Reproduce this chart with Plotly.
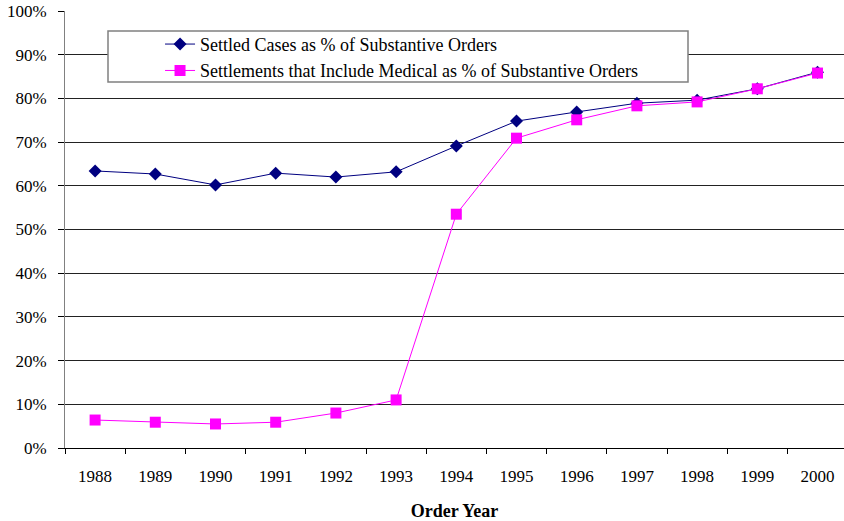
import plotly.graph_objects as go

years = ["1988", "1989", "1990", "1991", "1992", "1993", "1994",
         "1995", "1996", "1997", "1998", "1999", "2000"]
settled = [63.4, 62.7, 60.2, 62.9, 62.0, 63.2, 69.1, 74.8, 76.9, 78.9, 79.6, 82.2, 86.0]
medical = [6.4, 5.9, 5.5, 5.9, 8.0, 11.0, 53.5, 70.9, 75.1, 78.3, 79.2, 82.2, 85.8]

FONT = "Liberation Serif"
TF = dict(family=FONT, size=17, color="black")
LF = dict(family=FONT, size=18, color="black")

W, H = 844, 521
L, T, B = 65, 11, 73

fig = go.Figure()
fig.add_trace(go.Scatter(
    x=years, y=settled, mode="lines+markers",
    name="Settled Cases as % of Substantive Orders",
    line=dict(color="#000080", width=1),
    marker=dict(symbol="diamond", size=10, color="#000080"),
))
fig.add_trace(go.Scatter(
    x=years, y=medical, mode="lines+markers",
    name="Settlements that Include Medical as % of Substantive Orders",
    line=dict(color="#FF00FF", width=1),
    marker=dict(symbol="square", size=11, color="#FF00FF"),
))

fig.update_layout(
    width=W, height=H,
    margin=dict(l=L, r=0, t=T, b=B, autoexpand=False),
    paper_bgcolor="white", plot_bgcolor="white",
    font=TF,
    showlegend=True,
    legend=dict(x=0.122, y=0.966, xanchor="left", yanchor="top",
                bgcolor="rgba(0,0,0,0)", borderwidth=0,
                font=LF, tracegroupgap=0, itemwidth=30),
    xaxis=dict(type="category", range=[-0.5, 12.44], automargin=False,
               tickson="boundaries", ticks="outside", ticklen=5,
               tickcolor="black", showline=True, linecolor="black",
               linewidth=1, showgrid=False, tickfont=TF,
               ticklabelstandoff=13,
               title=dict(text="<b>Order Year</b>", standoff=20, font=LF)),
    yaxis=dict(range=[0, 100], dtick=10, ticksuffix="%", automargin=False,
               ticks="outside", ticklen=6, tickcolor="black", tickfont=TF,
               ticklabelstandoff=8,
               showline=True, linecolor="#808080", linewidth=1,
               showgrid=True, gridcolor="#222222", gridwidth=1,
               zeroline=False),
)

PW = W - L
PH = H - T - B
fig.add_shape(type="rect", xref="paper", yref="paper",
              x0=(108 - L) / PW, x1=(688 - L) / PW,
              y0=(H - B - 82) / PH, y1=(H - B - 31) / PH,
              line=dict(color="#808080", width=1.5), fillcolor="white",
              layer="above")

fig.write_html("out.html",
               config={"displayModeBar": False},
               post_script="document.body.style.margin='0px';")
